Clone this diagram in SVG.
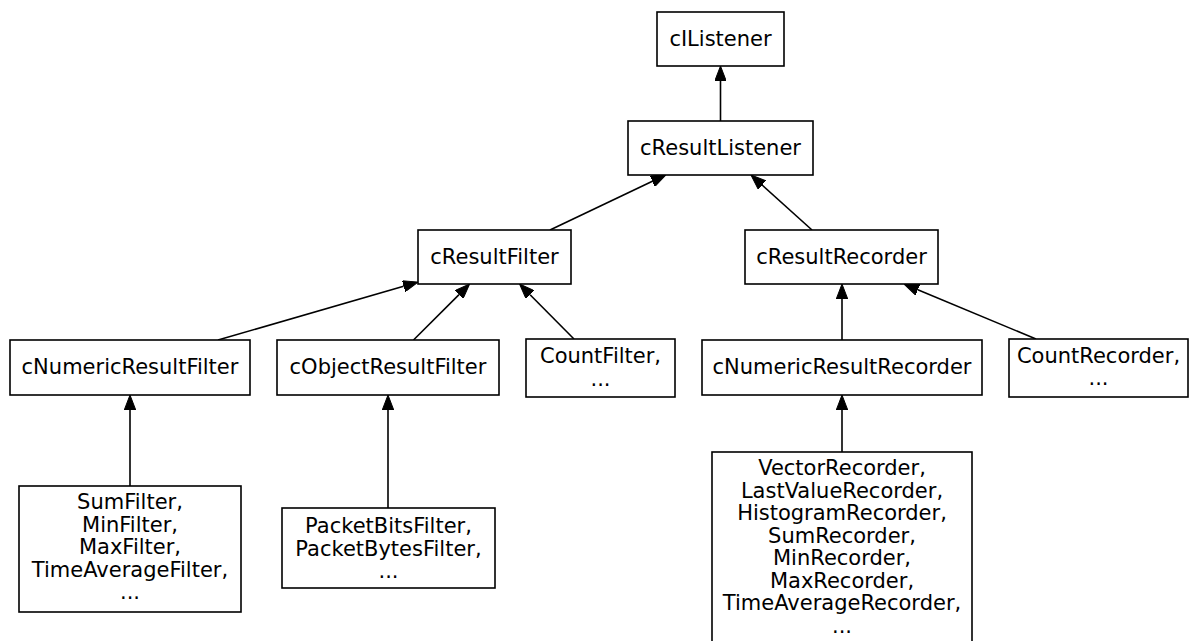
<svg xmlns="http://www.w3.org/2000/svg" width="1194" height="641" viewBox="0 0 1194 641">
<style>
rect.n { fill: #ffffff; stroke: #000000; stroke-width: 1.6; }
text { font-family: "DejaVu Sans", "Liberation Sans", sans-serif; font-size: 21px; fill: #000000; text-anchor: middle; }
line.e { stroke: #000000; stroke-width: 1.6; marker-end: url(#arr); }
</style>
<defs>
<marker id="arr" viewBox="0 0 15 11.5" refX="0" refY="5.75" markerWidth="15" markerHeight="11.5" markerUnits="userSpaceOnUse" orient="auto">
<path d="M0,0 L15,5.75 L0,11.5 z" fill="#000000" stroke="#000000" stroke-width="1"/>
</marker>
</defs>
<rect width="1194" height="641" fill="#ffffff"/>
<g id="connectors">
<line class="e" x1="720.5" y1="121" x2="720.5" y2="81"/>
<line class="e" x1="550" y1="230" x2="652.4" y2="181.3"/>
<line class="e" x1="812" y1="230" x2="762.1" y2="185"/>
<line class="e" x1="218" y1="340" x2="403.6" y2="286.2"/>
<line class="e" x1="413.5" y1="340" x2="459" y2="294.6"/>
<line class="e" x1="574" y1="339" x2="530.1" y2="294.7"/>
<line class="e" x1="842" y1="340" x2="842" y2="299"/>
<line class="e" x1="1036" y1="339" x2="917.8" y2="289.8"/>
<line class="e" x1="130" y1="486" x2="130" y2="410"/>
<line class="e" x1="388" y1="508" x2="388" y2="410"/>
<line class="e" x1="842" y1="452" x2="842" y2="410"/>
</g>
<g id="cIListener">
<rect class="n" x="657" y="12" width="127" height="54"/>
<text x="720.5" y="46">cIListener</text>
</g>
<g id="cResultListener">
<rect class="n" x="628" y="121" width="185" height="54"/>
<text x="720.5" y="154.5">cResultListener</text>
</g>
<g id="cResultFilter">
<rect class="n" x="418" y="230" width="153" height="54"/>
<text x="494.5" y="263.5">cResultFilter</text>
</g>
<g id="cResultRecorder">
<rect class="n" x="745" y="230" width="193" height="54"/>
<text x="841.5" y="263.5">cResultRecorder</text>
</g>
<g id="cNumericResultFilter">
<rect class="n" x="10" y="340" width="240" height="55"/>
<text x="130" y="374">cNumericResultFilter</text>
</g>
<g id="cObjectResultFilter">
<rect class="n" x="277" y="340" width="222" height="55"/>
<text x="388" y="374">cObjectResultFilter</text>
</g>
<g id="CountFilter">
<rect class="n" x="526" y="339" width="149" height="58"/>
<text x="600.5" y="363">CountFilter,</text>
<text x="600.5" y="385.5">...</text>
</g>
<g id="cNumericResultRecorder">
<rect class="n" x="702" y="340" width="280" height="55"/>
<text x="842" y="374">cNumericResultRecorder</text>
</g>
<g id="CountRecorder">
<rect class="n" x="1009" y="339" width="179" height="58"/>
<text x="1098.5" y="362.5">CountRecorder,</text>
<text x="1098.5" y="385">...</text>
</g>
<g id="SumFilter">
<rect class="n" x="19" y="486" width="222" height="126"/>
<text x="130" y="509">SumFilter,</text>
<text x="130" y="531.5">MinFilter,</text>
<text x="130" y="554">MaxFilter,</text>
<text x="130" y="576.5">TimeAverageFilter,</text>
<text x="130" y="599">...</text>
</g>
<g id="PacketBitsFilter">
<rect class="n" x="282" y="508" width="213" height="80"/>
<text x="388.5" y="533">PacketBitsFilter,</text>
<text x="388.5" y="555.5">PacketBytesFilter,</text>
<text x="388.5" y="578">...</text>
</g>
<g id="VectorRecorder">
<rect class="n" x="712" y="452" width="260" height="210"/>
<text x="842" y="475">VectorRecorder,</text>
<text x="842" y="497.5">LastValueRecorder,</text>
<text x="842" y="520">HistogramRecorder,</text>
<text x="842" y="542.5">SumRecorder,</text>
<text x="842" y="565">MinRecorder,</text>
<text x="842" y="587.5">MaxRecorder,</text>
<text x="842" y="610">TimeAverageRecorder,</text>
<text x="842" y="632.5">...</text>
</g>
</svg>
